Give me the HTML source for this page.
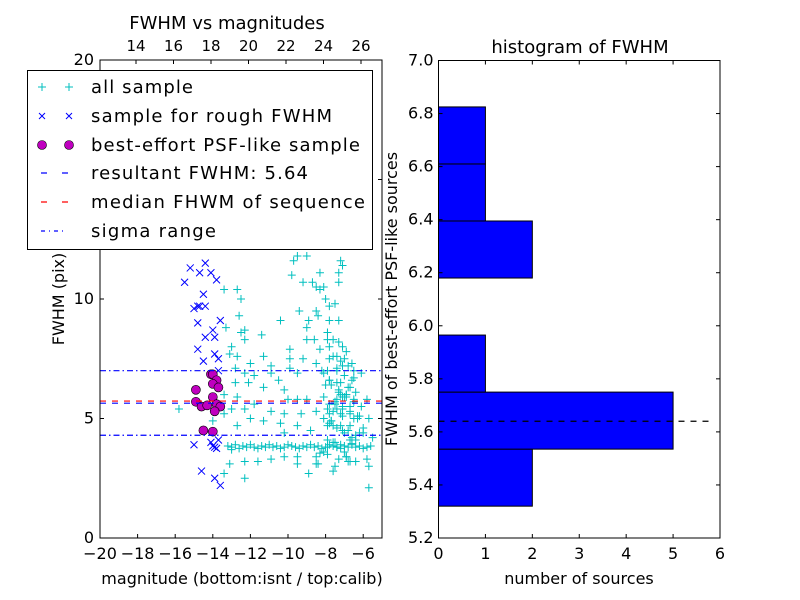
<!DOCTYPE html>
<html><head><meta charset="utf-8"><style>
html,body{margin:0;padding:0;background:#fff;}
svg{display:block;font-family:"DejaVu Sans","Liberation Sans",sans-serif;}
</style></head><body>
<svg id="c" width="800" height="600" viewBox="0 0 800 600"></svg>
<script>
// ---- data: left scatter ----
const allSampleX = [-15.8,-14.0,-13.4,-12.7,-12.5,-12.6,-13.3,-12.3,-12.5,-11.4,-13.0,-12.3,-13.1,-12.7,-11.3,-12.0,-10.9,-9.9,-12.8,-12.3,-11.8,-10.9,-10.5,-9.5,-12.8,-12.1,-11.3,-10.2,-13.4,-12.7,-11.8,-10.0,-9.5,-9.0,-13.0,-12.3,-10.9,-10.2,-9.3,-13.4,-12.0,-11.3,-10.4,-12.7,-10.2,-9.5,-8.8,
-9.5,-9.0,-9.7,-7.2,-7.1,-7.3,-8.3,-9.8,-9.2,-8.7,-8.1,-7.3,-8.5,-8.3,-8.0,-7.5,-7.8,-9.4,-8.5,-8.4,-7.3,-7.8,-8.9,-10.4,-9.0,-7.9,-8.6,-9.0,-7.9,-7.8,-7.6,-8.3,-9.9,-9.9,-9.2,-7.4,-7.0,-8.5,-7.8,-7.9,-7.1,-6.5,-8.1,-7.8,-7.4,-6.7,-7.8,-7.2,-6.9,-8.1,-7.4,-5.8,-7.1,-7.8,-6.7,-7.4,-7.9,-8.5,-7.8,-7.2,-6.5,-5.7,-8.1,-7.1,-6.2,-7.6,-6.7,-7.9,-7.1,-6.0,-5.5,-6.7,-6.4,-7.4,-7.9,-6.9,-6.4,-5.8,-8.5,-9.5,-8.4,-5.7,
-13.4,-13.2,-13.0,-12.8,-12.6,-12.4,-12.2,-12.0,-11.8,-11.6,-11.4,-11.2,-11.0,-10.8,-10.6,-10.4,-10.2,-10.0,-9.8,-9.6,-9.4,-9.2,-9.0,-8.8,-8.6,-8.4,-8.2,-8.0,-7.8,-7.6,-7.4,-7.2,-7.0,-6.8,-6.6,-6.4,-6.2,-6.0,-5.8,-5.6,-7.9,-7.5,-7.0,-6.6,-8.3,-7.2,
-13.0,-12.3,-11.6,-10.9,-10.2,-9.5,-8.5,-13.1,-12.3,-8.9,-5.7,-7.6,-6.8,
-7.5,-7.3,-7.1,-6.9,-7.6,-7.2,-6.8,-7.4,-7.0,-6.6,-7.7,-7.3,-6.9,-6.5,-7.5,-7.1,-6.7,-6.3,-7.8,-7.4,-7.0,-6.6,-7.6,-7.2,-6.8,-6.4,-7.9,-7.5,-7.1,-6.7,-6.3,-7.7,-7.3,-6.9,-6.5,-6.1,-7.6,-7.2,-6.8,-6.4,-7.0,-6.6,-7.4,-7.9,-8.2,-8.0,-6.2,-6.0,-7.5,-6.9,-7.3,-6.7,-8.1,-7.7,-6.5,-6.1];
const allSampleY = [5.4,4.9,10.4,10.4,10.0,9.3,8.8,8.7,8.6,8.5,8.0,8.3,7.7,7.6,7.6,7.3,7.2,7.1,7.1,6.9,6.8,6.9,6.6,6.9,6.5,6.5,6.3,6.2,6.0,5.9,5.6,5.8,5.8,5.8,5.4,5.4,5.3,5.2,5.2,5.2,5.0,4.9,4.8,4.7,4.4,4.7,4.5,
11.8,11.8,11.6,11.6,11.4,11.1,11.1,11.0,10.7,10.7,10.5,10.7,10.5,10.4,10.0,9.8,9.7,9.5,9.5,9.3,9.1,9.1,9.1,9.1,8.8,8.6,8.3,8.3,8.3,8.0,8.3,7.9,7.9,7.5,7.5,7.6,7.5,7.3,7.5,7.0,7.2,7.0,6.9,6.6,6.5,6.3,6.6,6.0,6.0,5.9,5.8,5.8,5.9,5.6,5.5,5.4,5.4,5.3,5.2,5.2,5.0,5.0,5.0,5.1,5.1,4.7,4.7,4.7,4.5,4.4,4.2,4.1,4.1,3.8,3.5,3.4,3.2,3.3,3.4,3.1,3.1,3.0,2.7,
3.85,3.8,3.9,3.75,3.85,3.8,3.9,3.8,3.75,3.85,3.8,3.9,3.8,3.85,3.75,3.8,3.9,3.85,3.8,3.75,3.85,3.8,3.9,3.8,3.85,3.75,3.8,3.9,3.85,3.8,3.75,3.85,3.8,3.9,3.8,3.85,3.75,3.8,3.85,3.8,4.0,3.6,3.95,3.55,3.9,3.7,
3.2,3.2,3.3,3.4,3.4,3.1,3.1,2.5,2.7,2.1,2.8,3.2,3.0,
8.2,8.0,7.8,7.6,7.4,7.2,7.0,6.8,6.6,6.4,6.2,6.0,5.8,5.6,5.4,5.2,5.0,4.8,4.6,4.4,4.2,4.0,4.7,4.5,4.3,4.1,5.7,5.5,5.3,5.1,4.9,6.1,5.9,5.7,5.5,5.3,6.5,6.3,6.1,5.9,7.3,7.1,8.6,7.0,6.4,4.4,4.6,5.6,3.4,3.3,3.2,3.6,4.9,6.7,6.9,4.3];
const roughX = [-15.2,-14.7,-14.4,-14.1,-15.5,-13.8,-14.5,-15.0,-14.8,-14.7,-14.4,-13.6,-14.8,-14.0,-13.9,-14.4,-14.8,-13.9,-14.5,-13.7,-13.7,-15.0,-14.1,-13.9,-13.8,-14.0,-13.7,-14.6,-13.9,-13.6];
const roughY = [11.3,11.1,11.5,11.1,10.7,10.8,10.2,9.6,9.7,9.7,9.7,9.1,9.0,8.7,8.4,8.4,7.9,7.7,7.4,7.5,7.0,3.9,4.0,3.8,3.75,3.85,4.1,2.8,2.5,2.2];
const psfX = [-14.1,-14.0,-13.8,-14.0,-13.7,-14.9,-14.0,-14.9,-14.6,-14.3,-13.8,-13.6,-13.9,-14.5,-14.0];
const psfY = [6.85,6.85,6.6,6.45,6.3,6.2,5.9,5.7,5.5,5.55,5.6,5.5,5.3,4.5,4.45];
const resultFWHM = 5.64, medianFWHM = 5.73, sigmaLow = 4.3, sigmaHigh = 7.0;
const leftXTicks = [-20,-18,-16,-14,-12,-10,-8,-6];
const leftYTicks = [0,5,10,15,20];
const topTicks = [14,16,18,20,22,24,26];
// ---- data: histogram ----
const binEdges = [5.32,5.535,5.75,5.965,6.18,6.395,6.61,6.825];
const binCounts = [2,5,1,0,2,1,1];
const histYTicks = [5.2,5.4,5.6,5.8,6.0,6.2,6.4,6.6,6.8,7.0];
const histXTicks = [0,1,2,3,4,5,6];

const NS="http://www.w3.org/2000/svg", svg=document.getElementById('c');
function mk(t,a,p){const e=document.createElementNS(NS,t);for(const k in a)e.setAttribute(k,a[k]);(p||svg).appendChild(e);return e;}
const L={x0:100,x1:382,y0:60,y1:538};
const lx=v=>L.x0+(v+20)/15*(L.x1-L.x0);
const ly=v=>L.y1-v/20*(L.y1-L.y0);
const tx=v=>L.x0+(v-12.08)/(27.12-12.08)*(L.x1-L.x0);
const R={x0:438.5,x1:720,y0:60.5,y1:538};
const rx=v=>R.x0+v/6*(R.x1-R.x0);
const ry=v=>R.y1-(v-5.2)/1.8*(R.y1-R.y0);

const gL=mk('g',{});
mk('defs',{}).innerHTML='<clipPath id="cl"><rect x="100" y="60" width="282" height="478"/></clipPath>';
const pts=mk('g',{'clip-path':'url(#cl)'},gL);
allSampleX.forEach((x,i)=>{const cx=lx(x),cy=ly(allSampleY[i]);
 const p=mk('path',{d:`M${cx-4},${cy}H${cx+4}M${cx},${cy-4}V${cy+4}`,stroke:'#00bfbf','stroke-width':1,fill:'none'},pts);
 });
roughX.forEach((x,i)=>{const cx=lx(x),cy=ly(roughY[i]);
 const p=mk('path',{d:`M${cx-3.5},${cy-3.5}L${cx+3.5},${cy+3.5}M${cx-3.5},${cy+3.5}L${cx+3.5},${cy-3.5}`,stroke:'#0000ff','stroke-width':1,fill:'none'},pts);
 });
psfX.forEach((x,i)=>{const p=mk('circle',{cx:lx(x),cy:ly(psfY[i]),r:4.5,fill:'#bf00bf',stroke:'#000','stroke-width':0.6},pts);
 });
function hl(v,col,dash,name){const l=mk('line',{x1:L.x0,x2:L.x1,y1:ly(v),y2:ly(v),stroke:col,'stroke-width':1.2,'stroke-dasharray':dash},pts);
 }
hl(sigmaHigh,'#0000ff','6 3 1.5 3','sigma-high-line');
hl(sigmaLow,'#0000ff','6 3 1.5 3','sigma-low-line');
hl(medianFWHM,'#ff0000','6 6','median-fwhm-line');
hl(resultFWHM,'#0000ff','6 6','result-fwhm-line');
mk('rect',{x:L.x0,y:L.y0,width:L.x1-L.x0,height:L.y1-L.y0,fill:'none',stroke:'#000','stroke-width':1},gL);
leftXTicks.forEach(v=>{const x=lx(v);mk('line',{x1:x,x2:x,y1:L.y1,y2:L.y1-4,stroke:'#000'},gL);
 const t=mk('text',{x:x,y:L.y1+21,'font-size':16,'text-anchor':'middle'},gL);t.textContent=(v<0?'\u2212':'')+Math.abs(v);
 });
topTicks.forEach(v=>{const x=tx(v);mk('line',{x1:x,x2:x,y1:L.y0,y2:L.y0+4,stroke:'#000'},gL);
 const t=mk('text',{x:x,y:L.y0-9,'font-size':15,'text-anchor':'middle'},gL);t.textContent=v;
 });
leftYTicks.forEach(v=>{const y=ly(v);mk('line',{x1:L.x0,x2:L.x0+4,y1:y,y2:y,stroke:'#000'},gL);mk('line',{x1:L.x1,x2:L.x1-4,y1:y,y2:y,stroke:'#000'},gL);
 const t=mk('text',{x:L.x0-6,y:y+5,'font-size':16,'text-anchor':'end'},gL);t.textContent=v;
 });
const gR=mk('g',{});
binCounts.forEach((c,i)=>{if(!c)return;const b=mk('rect',{x:rx(0),y:ry(binEdges[i+1]),width:rx(c)-rx(0),height:ry(binEdges[i])-ry(binEdges[i+1]),fill:'#0000ff',stroke:'#000','stroke-width':1},gR);
 });
const dl=mk('line',{x1:R.x0,x2:rx(5.85),y1:ry(resultFWHM),y2:ry(resultFWHM),stroke:'#000','stroke-width':1.2,'stroke-dasharray':'6 6'},gR);

mk('rect',{x:R.x0,y:R.y0,width:R.x1-R.x0,height:R.y1-R.y0,fill:'none',stroke:'#000','stroke-width':1},gR);
histXTicks.forEach(v=>{const x=rx(v);mk('line',{x1:x,x2:x,y1:R.y1,y2:R.y1-4,stroke:'#000'},gR);mk('line',{x1:x,x2:x,y1:R.y0,y2:R.y0+4,stroke:'#000'},gR);
 const t=mk('text',{x:x,y:R.y1+21,'font-size':16,'text-anchor':'middle'},gR);t.textContent=v;
 });
histYTicks.forEach(v=>{const y=ry(v);mk('line',{x1:R.x0,x2:R.x0+4,y1:y,y2:y,stroke:'#000'},gR);mk('line',{x1:R.x1,x2:R.x1-4,y1:y,y2:y,stroke:'#000'},gR);
 const t=mk('text',{x:R.x0-5,y:y+5,'font-size':16,'text-anchor':'end'},gR);t.textContent=v.toFixed(1);
 });
</script>
<svg width="800" height="600" style="position:absolute;left:0;top:0;font-family:'DejaVu Sans','Liberation Sans',sans-serif">
<text x="227" y="29" font-size="18" text-anchor="middle">FWHM vs magnitudes</text>
<text x="580" y="53" font-size="18" text-anchor="middle">histogram of FWHM</text>
<text x="242" y="584" font-size="16" text-anchor="middle">magnitude (bottom:isnt / top:calib)</text>
<text x="579" y="584" font-size="16" text-anchor="middle">number of sources</text>
<text transform="translate(64,299) rotate(-90)" font-size="16" text-anchor="middle">FWHM (pix)</text>
<text transform="translate(397,299) rotate(-90)" font-size="16" text-anchor="middle">FWHM of best-effort PSF-like sources</text>
<g>
<rect x="27.5" y="70.5" width="345" height="179" fill="#fff" stroke="#000"/>
<path d="M38,87H46M42,83V91M65,87H73M69,83V91" stroke="#00bfbf" fill="none"/>
<path d="M39,113L45,119M39,119L45,113M66,113L72,119M66,119L72,113" stroke="#0000ff" fill="none"/>
<circle cx="42" cy="145" r="4.5" fill="#bf00bf" stroke="#000" stroke-width="0.6"/><circle cx="69" cy="145" r="4.5" fill="#bf00bf" stroke="#000" stroke-width="0.6"/>
<path d="M41,173H47M62,173H68" stroke="#0000ff" stroke-width="1.2"/>
<path d="M41,202H47M62,202H68" stroke="#ff0000" stroke-width="1.2"/>
<path d="M41,231H45M49,231H50M54,231H58M62,231H63" stroke="#0000ff" stroke-width="1.2"/>
<g font-size="18">
<text x="91" y="93" textLength="102">all sample</text>
<text x="91" y="122" textLength="241">sample for rough FWHM</text>
<text x="91" y="151" textLength="269">best-effort PSF-like sample</text>
<text x="91" y="179" textLength="217">resultant FWHM: 5.64</text>
<text x="91" y="208" textLength="274">median FHWM of sequence</text>
<text x="91" y="237" textLength="125">sigma range</text>
</g></g>
</svg>
</body></html>
